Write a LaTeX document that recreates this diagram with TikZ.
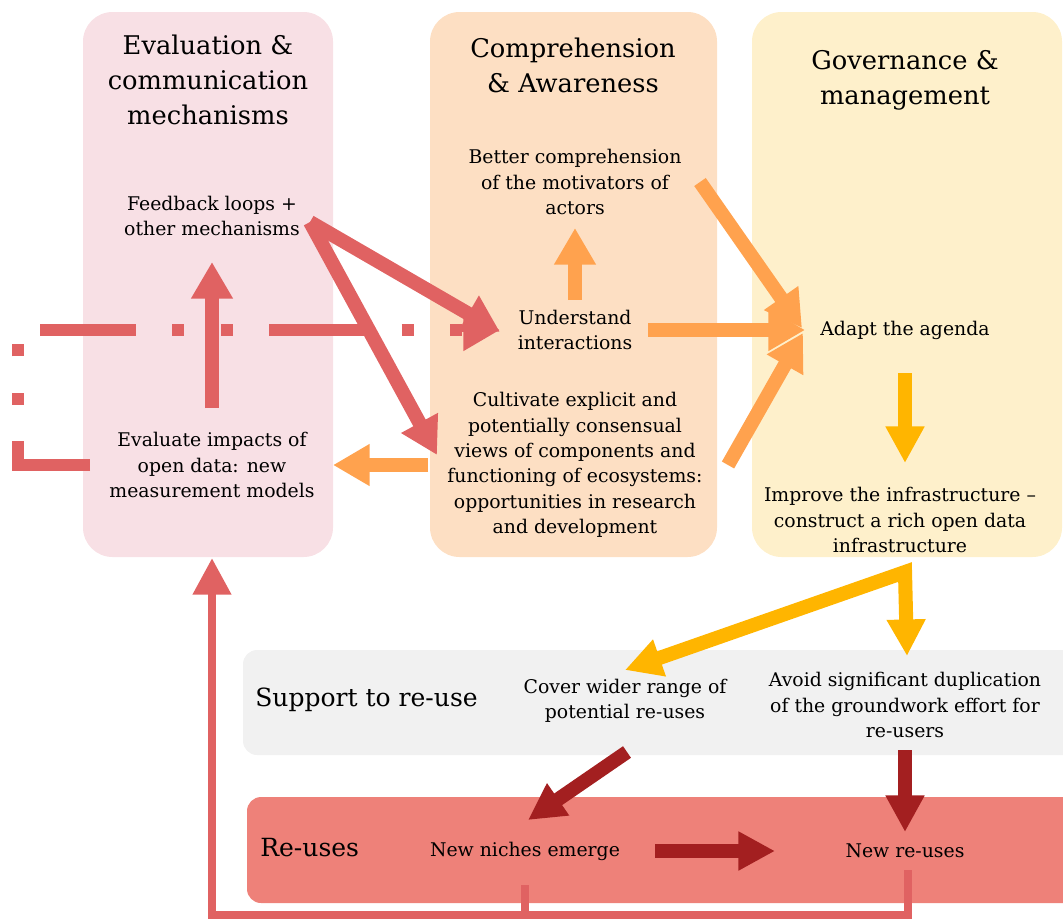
\documentclass[tikz,border=0pt]{standalone}
\usepackage{fontspec}
\setmainfont{DejaVu Serif}
\usepackage{tikz}
\usetikzlibrary{arrows.meta,calc}
\definecolor{bg_pink}{HTML}{F8E0E5}
\definecolor{bg_peach}{HTML}{FDDFC3}
\definecolor{bg_yellow}{HTML}{FEF0CB}
\definecolor{bg_gray}{HTML}{F1F1F1}
\definecolor{bg_red}{HTML}{EE8179}
\definecolor{c_red}{HTML}{E06262}
\definecolor{c_orange}{HTML}{FFA24E}
\definecolor{c_gold}{HTML}{FFB500}
\definecolor{c_dark}{HTML}{A31F20}
\tikzset{
	txt/.style = {align=center, inner sep=2pt, font=\fontsize{13.4}{18}\selectfont},
	hd/.style = {align=center, inner sep=2pt, font=\fontsize{18.3}{25}\selectfont},
	lbl/.style = {anchor=west, inner sep=0pt, font=\fontsize{17.8}{25}\selectfont},
	bigtip/.style = {-{Triangle[width=28pt,length=26pt]}},
	arr_red/.style = {draw=c_red, line width=10pt, bigtip},
	arr_orange/.style = {draw=c_orange, line width=10pt, bigtip},
	arr_gold/.style = {draw=c_gold, line width=10pt, -{Triangle[width=26pt,length=26pt]}},
	arr_dark/.style = {draw=c_dark, line width=10pt, -{Triangle[width=26pt,length=26pt]}},
	arr_loop/.style = {draw=c_red, line width=6pt, -{Triangle[width=26pt,length=26pt]}},
	arr_dash/.style = {arr_red, line width=8.5pt, dash pattern=on 68pt off 26pt on 8.5pt off 26pt on 8.5pt off 26pt}
}
\begin{document}
\begin{tikzpicture}[x=0.025cm, y=-0.025cm]
	\clip (0,0) rectangle (1063,922);
	% background panels
	\fill[bg_pink, rounded corners=21pt] (83,12) rectangle (333,557);
	\fill[bg_peach, rounded corners=21pt] (430,12) rectangle (717,557);
	\fill[bg_yellow, rounded corners=21pt] (752,12) rectangle (1062,557);
	\fill[bg_gray, rounded corners=10pt] (243,650) rectangle (1090,755);
	\fill[bg_red, rounded corners=10pt] (247,797) rectangle (1090,903);

	\node [hd] (hd_eval) at (208,80) {Evaluation \&\\communication\\mechanisms};
	\node [hd] (hd_comp) at (573,65) {Comprehension\\\& Awareness};
	\node [hd] (hd_gov) at (905,80) {Governance \&\\management};

	\node [txt] (feedback) at (212,216) {Feedback loops +\\other mechanisms};
	\node [txt] (evaluate) at (212,465) {Evaluate impacts of\\open data:  new\\measurement models};
	\node [txt] (better) at (575,182) {Better comprehension\\of the motivators of\\actors};
	\node [txt] (understand) at (575,330) {Understand\\interactions};
	\node [txt] (cultivate) at (575,465) {Cultivate explicit and\\potentially consensual\\views of components  and\\functioning  of ecosystems:\\opportunities in research\\and development};
	\node [txt] (adapt) at (905,330) {Adapt the agenda};
	\node [txt] (improve) at (900,520) {Improve the infrastructure --\\construct a rich open data\\infrastructure};

	\node [lbl] (support) at (255,700) {Support to re-use};
	\node [txt] (cover) at (625,701) {Cover wider range of\\potential re-uses};
	\node [txt] (avoid) at (905,705) {Avoid significant  duplication\\of the groundwork effort for\\re-users};

	\node [lbl] (reuses) at (260,848) {Re-uses};
	\node [txt] (niches) at (525,851) {New niches emerge};
	\node [txt] (newre) at (905,851) {New re-uses};

	% evaluation loop
	\draw [arr_dash] ($(evaluate)+(-122,0)$) -- ++(-72,0) |- ($(understand)+(-75,0)$);
	\draw [arr_red] ($(evaluate)+(0,-57)$) -- ($(feedback)+(0,46)$);
	\draw [arr_red] ($(feedback)+(98,6)$) -- ($(understand)+(-75,2)$);
	\draw [arr_red] ($(feedback)+(98,6)$) -- ($(cultivate)+(-138,-10)$);

	% comprehension
	\draw [arr_orange] ($(understand)+(0,-30)$) -- ($(better)+(0,46)$);
	\draw [arr_orange] ($(understand)+(73,0)$) -- ($(adapt)+(-100,0)$);
	\draw [arr_orange] ($(better)+(125,0)$) -- ($(adapt)+(-103,-2)$);
	\draw [arr_orange] ($(cultivate)+(153,0)$) -- ($(adapt)+(-102,3)$);
	\draw [arr_orange] ($(cultivate)+(-147,0)$) -- ($(evaluate)+(121,0)$);

	% governance
	\draw [arr_gold] ($(adapt)+(0,43)$) -- ($(improve)+(5,-57)$);
	\draw [arr_gold, {Triangle[width=26pt,length=26pt]}-{Triangle[width=26pt,length=26pt]}]
		($(cover)+(0,-31)$) -- ($(improve)+(5,52)$) -- ($(avoid)+(2,-49)$);

	% re-use
	\draw [arr_dark] ($(cover)+(2,51)$) -- ($(niches)+(3,-31)$);
	\draw [arr_dark] ($(avoid)+(0,45)$) -- ($(newre)+(0,-19)$);
	\draw [arr_dark] ($(niches)+(130,0)$) -- ($(newre)+(-130,0)$);

	\draw [arr_loop] ($(newre)+(3,19)$) |- ($(evaluate)+(0,450)$) -- ($(evaluate)+(0,93)$);
	\draw [c_red, line width=6pt] ($(niches)+(0,34)$) -- ($(niches)+(0,66)$);
\end{tikzpicture}
\end{document}
